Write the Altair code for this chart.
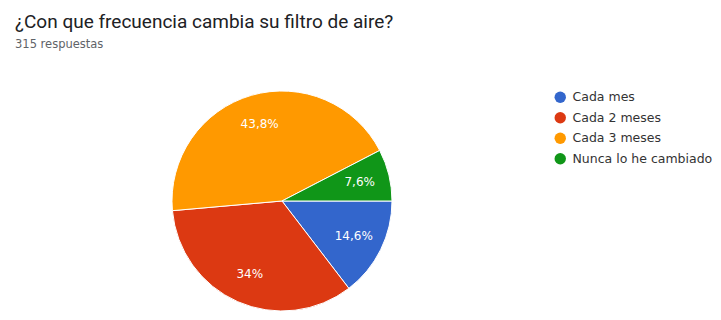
import altair as alt
import pandas as pd
import math

categorias = ["Cada mes", "Cada 2 meses", "Cada 3 meses", "Nunca lo he cambiado"]
porcentajes = [14.6, 34.0, 43.8, 7.6]
etiquetas = ["14,6%", "34%", "43,8%", "7,6%"]
colores = ["#3366cc", "#dc3912", "#ff9900", "#109618"]

df = pd.DataFrame({
    "categoria": categorias,
    "porcentaje": porcentajes,
    "etiqueta": etiquetas,
    "orden": list(range(len(categorias))),
})

theta_scale = alt.Scale(range=[math.pi / 2, math.pi / 2 + 2 * math.pi])

base = alt.Chart(df).encode(
    theta=alt.Theta("porcentaje:Q", stack=True, scale=theta_scale),
    order=alt.Order("orden:Q"),
)

arcs = base.mark_arc(stroke="white", strokeWidth=1).encode(
    x=alt.value(282),
    y=alt.value(145),
    radius=alt.value(110),
    color=alt.Color(
        "categoria:N",
        scale=alt.Scale(domain=categorias, range=colores),
        sort=categorias,
        legend=alt.Legend(
            title=None,
            orient="none",
            legendX=554,
            legendY=35,
            symbolType="circle",
            symbolSize=130,
            symbolStrokeWidth=0,
            labelFont="DejaVu Sans",
            labelFontSize=12.5,
            labelColor="#333333",
            rowPadding=7.5,
            labelOffset=6,
        ),
    ),
)

labels = base.mark_text(
    font="DejaVu Sans", fontSize=12, color="white"
).encode(
    x=alt.value(282),
    y=alt.value(145),
    radius=alt.value(80),
    text="etiqueta:N",
)

chart = (
    alt.layer(arcs, labels)
    .properties(
        width=721,
        height=264,
        padding={"top": 56, "left": 0, "right": 0, "bottom": 0},
        autosize=alt.AutoSizeParams(type="none"),
        title=alt.TitleParams(
            text="¿Con que frecuencia cambia su filtro de aire?",
            subtitle="315 respuestas",
            anchor="start",
            frame="group",
            dx=15,
            offset=6,
            font="Roboto",
            fontSize=19,
            fontWeight="normal",
            color="#202124",
            subtitleFont="DejaVu Sans",
            subtitleFontSize=11.5,
            subtitleColor="#5f6368",
            subtitlePadding=7,
        ),
    )
    .configure_view(stroke=None)
)

chart.save("out.html", embed_options={"renderer": "svg", "actions": False})
